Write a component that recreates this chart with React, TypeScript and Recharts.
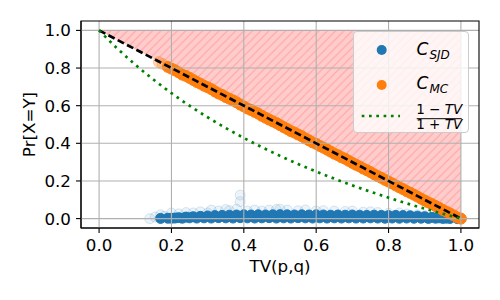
import React from 'react';
import { ComposedChart, Scatter, Line, Area, XAxis, YAxis, CartesianGrid, Legend, Label, ReferenceArea } from 'recharts';

// ---- tick labels ----
const xTicks = [0, 0.2, 0.4, 0.6, 0.8, 1.0];
const yTicks = [0, 0.2, 0.4, 0.6, 0.8, 1.0];
const tickLabels = ['0.0', '0.2', '0.4', '0.6', '0.8', '1.0'];
const axisDomain = [-0.05, 1.05];

// ---- C_SJD (blue) dense core ----
const sjdCoreX = [0.17, 0.19, 0.21, 0.23, 0.25, 0.27, 0.29, 0.31, 0.33, 0.35, 0.37, 0.39, 0.41, 0.43, 0.45, 0.47, 0.49, 0.51, 0.53, 0.55, 0.57, 0.59, 0.61, 0.63, 0.65, 0.67, 0.69, 0.71, 0.73, 0.75, 0.77, 0.79, 0.81, 0.83, 0.85, 0.87, 0.89, 0.91, 0.93, 0.95, 0.97, 0.99,
  0.2, 0.22, 0.24, 0.26, 0.28, 0.3, 0.32, 0.34, 0.36, 0.38, 0.4, 0.42, 0.44, 0.46, 0.48, 0.5, 0.52, 0.54, 0.56, 0.58, 0.6, 0.62, 0.64, 0.66, 0.68, 0.7, 0.72, 0.74, 0.76, 0.78, 0.8, 0.82, 0.84, 0.86, 0.88, 0.9, 0.92, 0.94, 0.96];
const sjdCoreY = [0.001, 0.002, 0.003, 0.002, 0.004, 0.003, 0.004, 0.003, 0.005, 0.004, 0.003, 0.005, 0.004, 0.003, 0.004, 0.005, 0.003, 0.004, 0.003, 0.005, 0.004, 0.003, 0.004, 0.003, 0.004, 0.003, 0.004, 0.003, 0.003, 0.004, 0.003, 0.002, 0.003, 0.002, 0.003, 0.002, 0.002, 0.001, 0.002, 0.001, 0.001, 0.0,
  0.002, 0.005, 0.008, 0.01, 0.012, 0.014, 0.016, 0.017, 0.018, 0.019, 0.02, 0.019, 0.02, 0.019, 0.02, 0.021, 0.02, 0.019, 0.02, 0.019, 0.02, 0.019, 0.018, 0.019, 0.018, 0.019, 0.018, 0.017, 0.018, 0.017, 0.016, 0.017, 0.016, 0.015, 0.013, 0.01, 0.007, 0.004, 0.002];

// ---- C_SJD (blue) faint scattered points ----
const sjdFaintX = [0.14, 0.155, 0.17, 0.18, 0.2, 0.22, 0.24, 0.26, 0.28, 0.3, 0.31, 0.33, 0.35, 0.36, 0.38, 0.39, 0.39, 0.41, 0.43, 0.45, 0.47, 0.49, 0.5, 0.52, 0.55, 0.57, 0.6, 0.62, 0.65, 0.68, 0.7, 0.73, 0.75, 0.77, 0.8, 0.83, 0.85, 0.88, 0.9, 0.93];
const sjdFaintY = [0.0, 0.008, 0.02, 0.012, 0.03, 0.025, 0.032, 0.03, 0.036, 0.03, 0.045, 0.04, 0.048, 0.042, 0.05, 0.09, 0.125, 0.04, 0.045, 0.04, 0.045, 0.048, 0.05, 0.045, 0.042, 0.046, 0.04, 0.042, 0.04, 0.038, 0.04, 0.034, 0.036, 0.032, 0.028, 0.03, 0.024, 0.02, 0.016, 0.01];

// ---- C_MC (orange) ----
const mcX = [0.19, 0.21, 0.23, 0.25, 0.27, 0.29, 0.31, 0.33, 0.35, 0.37, 0.39, 0.41, 0.43, 0.45, 0.47, 0.49, 0.51, 0.53, 0.55, 0.57, 0.59, 0.61, 0.63, 0.65, 0.67, 0.69, 0.71, 0.73, 0.75, 0.77, 0.79, 0.81, 0.83, 0.85, 0.87, 0.89, 0.91, 0.93, 0.95, 0.97, 0.99, 1.0,
  0.2, 0.22, 0.24, 0.26, 0.28, 0.3, 0.32, 0.34, 0.36, 0.38, 0.4, 0.42, 0.44, 0.46, 0.48, 0.5, 0.52, 0.54, 0.56, 0.58, 0.6, 0.62, 0.64, 0.66, 0.68, 0.7, 0.72, 0.74, 0.76, 0.78, 0.8, 0.82, 0.84, 0.86, 0.88, 0.9, 0.92, 0.94, 0.96, 0.98];
const mcY = [0.806, 0.788, 0.765, 0.748, 0.726, 0.706, 0.688, 0.665, 0.646, 0.628, 0.606, 0.585, 0.567, 0.546, 0.526, 0.508, 0.486, 0.465, 0.447, 0.426, 0.405, 0.386, 0.367, 0.345, 0.326, 0.307, 0.286, 0.266, 0.247, 0.225, 0.206, 0.187, 0.166, 0.146, 0.127, 0.106, 0.086, 0.067, 0.046, 0.027, 0.006, 0.0,
  0.797, 0.777, 0.758, 0.737, 0.717, 0.698, 0.676, 0.657, 0.637, 0.618, 0.596, 0.577, 0.558, 0.536, 0.517, 0.497, 0.476, 0.457, 0.438, 0.416, 0.397, 0.377, 0.356, 0.337, 0.318, 0.296, 0.277, 0.257, 0.236, 0.217, 0.197, 0.176, 0.157, 0.137, 0.117, 0.096, 0.077, 0.057, 0.037, 0.017];
const mcFadeX = [0.165, 0.175];
const mcFadeY = [0.832, 0.822];

// ---- 1 - TV reference (dashed) and shaded region ----
const diagX = [0, 1];
const diagY = [1, 0];
const regionX = [0, 1];
const regionLow = [1, 0];
const regionHigh = [1, 1];

// ---- (1-TV)/(1+TV) curve (dotted green) ----
const boundX = [0, 0.05, 0.1, 0.15, 0.2, 0.25, 0.3, 0.35, 0.4, 0.45, 0.5, 0.55, 0.6, 0.65, 0.7, 0.75, 0.8, 0.85, 0.9, 0.95, 1.0];
const boundY = [1, 0.9048, 0.8182, 0.7391, 0.6667, 0.6, 0.5385, 0.4815, 0.4286, 0.3793, 0.3333, 0.2903, 0.25, 0.2121, 0.1765, 0.1429, 0.1111, 0.0811, 0.0526, 0.0256, 0];

const zip = (xs: number[], ys: number[]) => xs.map((x, i) => ({ x, y: ys[i] }));
const sjdCore = zip(sjdCoreX, sjdCoreY);
const sjdFaint = zip(sjdFaintX, sjdFaintY);
const mcData = zip(mcX, mcY);
const mcFade = zip(mcFadeX, mcFadeY);
const diagData = zip(diagX, diagY);
const boundData = zip(boundX, boundY);
const regionData = regionX.map((x, i) => ({ x, lo: regionLow[i], hi: regionHigh[i] }));

const FONT = 'DejaVu Sans';
const BLUE = '#1f77b4';
const ORANGE = '#ff7f0e';
const GREEN = '#008000';

const fmt = (v: number) => {
  const i = xTicks.indexOf(v);
  return i >= 0 ? tickLabels[i] : v.toFixed(1);
};

const XLabel = (props: any) => {
  const vb = props.viewBox || { x: 81, y: 228, width: 398, height: 50 };
  return (
    <text x={vb.x + vb.width / 2} y={vb.y + 44} textAnchor="middle" fontSize={16.7} fontFamily={FONT} fill="#000">
      TV(p,q)
    </text>
  );
};

const YLabel = (props: any) => {
  const vb = props.viewBox || { x: 21, y: 21, width: 60, height: 207 };
  const cx = vb.x + 13.5;
  const cy = vb.y + vb.height / 2;
  return (
    <text x={cx} y={cy} transform={`rotate(-90 ${cx} ${cy})`} textAnchor="middle" fontSize={16.7} fontFamily={FONT} fill="#000">
      Pr[X=Y]
    </text>
  );
};

const LegendBox = () => (
  <div style={{ position: 'relative', width: 116, height: 102, boxSizing: 'border-box', background: 'rgba(255,255,255,0.8)', border: '1px solid #cccccc', borderRadius: 4 }}>
    <svg width={116} height={102} style={{ position: 'absolute', left: -1, top: -1 }}>
      <circle cx={28.7} cy={19} r={5} fill={BLUE} />
      <text x={63.5} y={24} fontSize={17} fontFamily={FONT} fontStyle="italic" fill="#000">
        C<tspan fontSize={12} dy={3.5} dx={1}>SJD</tspan>
      </text>
      <circle cx={28.7} cy={54} r={5} fill={ORANGE} />
      <text x={63.5} y={58} fontSize={17} fontFamily={FONT} fontStyle="italic" fill="#000">
        C<tspan fontSize={12} dy={3.5} dx={1}>MC</tspan>
      </text>
      <line x1={8.7} y1={85} x2={47} y2={85} stroke={GREEN} strokeWidth={2.7} strokeDasharray="2.7 4.6" />
      <text x={86.2} y={83.3} textAnchor="middle" fontSize={13.5} fontFamily={FONT} fill="#000">
        1 − <tspan fontStyle="italic">TV</tspan>
      </text>
      <line x1={63.7} y1={87.7} x2={108.7} y2={87.7} stroke="#000" strokeWidth={1} />
      <text x={86.2} y={98.3} textAnchor="middle" fontSize={13.5} fontFamily={FONT} fill="#000">
        1 + <tspan fontStyle="italic">TV</tspan>
      </text>
    </svg>
  </div>
);

const dot = (r: number, color: string, fillOp: number, strokeOp: number) => (p: any) => (
  <circle cx={p.cx} cy={p.cy} r={r} fill={color} fillOpacity={fillOp} stroke={color} strokeOpacity={strokeOp} strokeWidth={1} />
);

export default function App() {
  return (
    <div style={{ position: 'fixed', left: 0, top: 0, width: 500, height: 300, background: '#fff', fontFamily: FONT }}>
      <ComposedChart width={500} height={300} margin={{ top: 21, right: 21, bottom: 22, left: 21 }}>
        <defs>
          <pattern id="hatch" patternUnits="userSpaceOnUse" width={8.33} height={8.33}>
            <rect x={0} y={0} width={8.33} height={8.33} fill="#ffcccc" />
            <path d="M0,8.33 L8.33,0 M-2,2 L2,-2 M6.33,10.33 L10.33,6.33" stroke="#ffa3a3" strokeWidth={1.1} />
          </pattern>
        </defs>
        <XAxis
          dataKey="x"
          type="number"
          domain={axisDomain}
          ticks={xTicks}
          tickFormatter={fmt}
          allowDataOverflow
          height={50}
          tickSize={5}
          tickMargin={6.5}
          stroke="#000"
          axisLine={{ stroke: '#000', strokeWidth: 1.1 }}
          tickLine={{ stroke: '#000', strokeWidth: 1.1 }}
          tick={{ fill: '#000', fontSize: 16.7, fontFamily: FONT }}
        >
          <Label content={XLabel} />
        </XAxis>
        <YAxis
          type="number"
          domain={axisDomain}
          ticks={yTicks}
          tickFormatter={fmt}
          allowDataOverflow
          width={60}
          tickSize={5}
          tickMargin={5}
          axisLine={{ stroke: '#000', strokeWidth: 1.1 }}
          tickLine={{ stroke: '#000', strokeWidth: 1.1 }}
          tick={{ fill: '#000', fontSize: 16.7, fontFamily: FONT }}
        >
          <Label content={YLabel} />
        </YAxis>

        <Area
          data={regionData}
          dataKey={(d: any) => [d.lo, d.hi]}
          type="linear"
          fill="url(#hatch)"
          fillOpacity={1}
          stroke="none"
          dot={false}
          activeDot={false}
          isAnimationActive={false}
          legendType="none"
          zIndex={100}
        />
        <Scatter data={sjdFaint} dataKey="y" shape={dot(5, BLUE, 0.08, 0.16)} isAnimationActive={false} zIndex={600} />
        <Scatter data={sjdCore} dataKey="y" shape={dot(5, BLUE, 1, 1)} isAnimationActive={false} zIndex={600} />
        <Scatter data={mcFade} dataKey="y" shape={dot(5.5, ORANGE, 0.3, 0.3)} isAnimationActive={false} zIndex={610} />
        <Scatter data={mcData} dataKey="y" shape={dot(5.5, ORANGE, 1, 1)} isAnimationActive={false} zIndex={610} />
        <CartesianGrid stroke="#b0b0b0" strokeWidth={1.1} horizontalValues={yTicks} verticalValues={xTicks} zIndex={650} />
        <Line data={diagData} dataKey="y" type="linear" stroke="#000" strokeWidth={2.7} strokeDasharray="7 3.5" dot={false} activeDot={false} isAnimationActive={false} zIndex={700} />
        <Line data={boundData} dataKey="y" type="monotone" stroke={GREEN} strokeWidth={2.7} strokeDasharray="2.7 4.6" dot={false} activeDot={false} isAnimationActive={false} zIndex={710} />
        <ReferenceArea x1={axisDomain[0]} x2={axisDomain[1]} y1={axisDomain[0]} y2={axisDomain[1]} fill="none" fillOpacity={0} stroke="#000" strokeWidth={1.1} ifOverflow="visible" zIndex={800} />
        <Legend content={LegendBox} layout="horizontal" verticalAlign="middle" align="center" wrapperStyle={{ left: 353, top: 31, width: 116, height: 102 }} />
      </ComposedChart>
    </div>
  );
}
